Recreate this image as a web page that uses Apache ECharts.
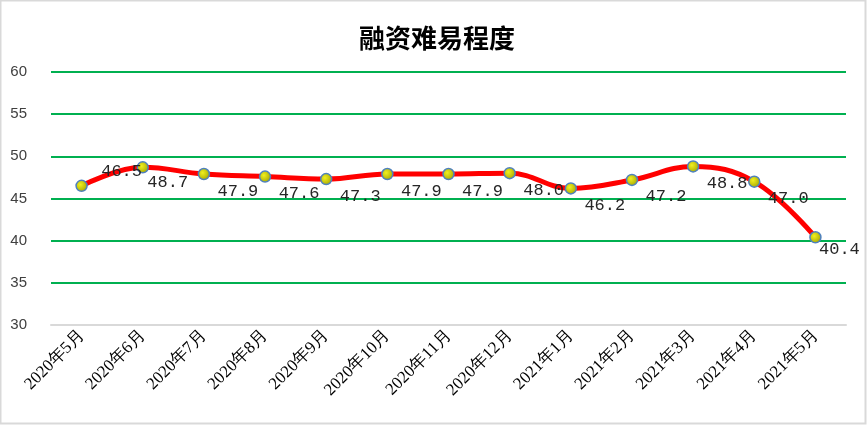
<!DOCTYPE html>
<html><head><meta charset="utf-8">
<script src="https://cdn.jsdelivr.net/npm/echarts@6/dist/echarts.min.js"></script>
<style>html,body{margin:0;padding:0;background:#fff}#c{width:867px;height:425px}</style>
</head><body><div id="c"></div>
<script>
const titleText = '融资难易程度';
const categories = ['2020年5月','2020年6月','2020年7月','2020年8月','2020年9月','2020年10月','2020年11月','2020年12月','2021年1月','2021年2月','2021年3月','2021年4月','2021年5月'];
const values = [46.5, 48.7, 47.9, 47.6, 47.3, 47.9, 47.9, 48.0, 46.2, 47.2, 48.8, 47.0, 40.4];
const yMin = 30, yMax = 60, yStep = 5;

// label placement tweaks (style only), by point index
const labelOffsetOverrides = {0: [40, -14], 1: [25, 15], 12: [24, 12]};

const chart = echarts.init(document.getElementById('c'));
chart.setOption({
  animation: false,
  backgroundColor: '#fff',
  title: {
    text: titleText, left: 432, top: 20, textAlign: 'center',
    textStyle: {fontFamily: 'Noto Sans CJK SC', fontSize: 26, fontWeight: 'bold', color: '#000'}
  },
  graphic: [{type: 'rect', shape: {x: 0.5, y: 0.5, width: 865, height: 423},
    style: {fill: 'none', stroke: '#d9d9d9', lineWidth: 2}, silent: true}],
  grid: {left: 51, right: 21, top: 72, bottom: 100},
  xAxis: {
    type: 'category', data: categories, boundaryGap: true,
    axisLine: {lineStyle: {color: '#d9d9d9', width: 2}},
    axisTick: {show: false},
    axisLabel: {rotate: 45, interval: 0, margin: 8, fontFamily: 'Liberation Serif', fontSize: 17, color: '#000'}
  },
  yAxis: {
    type: 'value', min: yMin, max: yMax, interval: yStep,
    axisLine: {show: false}, axisTick: {show: false},
    axisLabel: {margin: 24, fontFamily: 'Liberation Sans', fontSize: 15, color: '#404040'},
    splitLine: {lineStyle: {color: '#00b050', width: 2}}
  },
  series: [{
    type: 'line', smooth: 0.4,
    data: values.map((v, i) => labelOffsetOverrides[i] ? {value: v, label: {offset: labelOffsetOverrides[i]}} : v),
    lineStyle: {color: '#ff0000', width: 5},
    symbol: 'circle', symbolSize: 11,
    itemStyle: {
      color: {type: 'radial', x: 0.4, y: 0.4, r: 0.6, colorStops: [{offset: 0, color: '#f0f020'}, {offset: 1, color: '#a8a800'}]},
      borderColor: '#4f81bd', borderWidth: 1.5
    },
    label: {
      show: true, position: 'inside', offset: [34, 17],
      fontFamily: 'Liberation Mono', fontSize: 17, color: '#262626',
      formatter: p => p.value.toFixed(1)
    }
  }]
});
</script></body></html>
